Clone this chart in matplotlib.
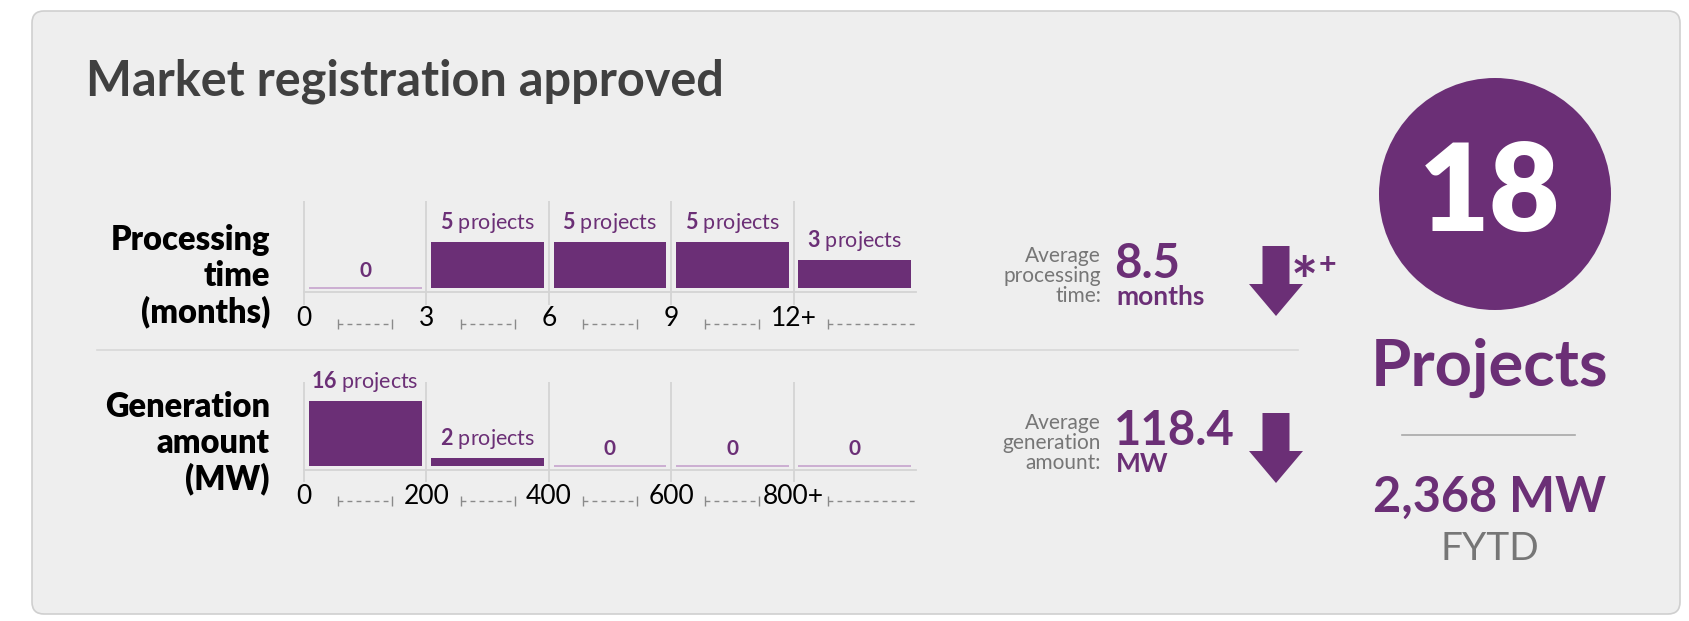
import matplotlib
matplotlib.use('Agg')
import matplotlib.pyplot as plt
from matplotlib.patches import FancyBboxPatch, Circle, FancyArrow

# chart data
time_ticks = ['0', '3', '6', '9', '12+']
time_counts = [0, 5, 5, 5, 3]
mw_ticks = ['0', '200', '400', '600', '800+']
mw_counts = [16, 2, 0, 0, 0]

title = 'Market registration approved'
row_labels = ['Processing\ntime\n(months)', 'Generation\namount\n(MW)']
avg_labels = ['Average\nprocessing\ntime:', 'Average\ngeneration\namount:']
avg_values = ['8.5', '118.4']
avg_units = ['months', 'MW']
total_projects = '18'
total_mw = '2,368 MW'
period = 'FYTD'

W, H, DPI = 1689, 621, 100
PURPLE = '#6b2f76'
ZERO_LINE = '#c9a9cf'
GRID = '#d4d4d4'
GREY_TXT = '#767676'

plt.rcParams['font.family'] = ['Lato', 'DejaVu Sans']
plt.rcParams['mathtext.fontset'] = 'custom'
plt.rcParams['mathtext.rm'] = 'Lato'
plt.rcParams['mathtext.bf'] = 'Lato:bold'

fig = plt.figure(figsize=(W / DPI, H / DPI), dpi=DPI, facecolor='white')

# background layer in pixel coordinates
bg = fig.add_axes([0, 0, 1, 1])
bg.set_xlim(0, W)
bg.set_ylim(H, 0)
bg.set_axis_off()

card = FancyBboxPatch((32, 11), 1648, 603, boxstyle='round,pad=0,rounding_size=12',
                      fc='#eeeeee', ec='#cfcfcf', lw=1.2)
bg.add_patch(card)

bg.text(86, 81, title, fontsize=35, fontweight='bold', color='#404040', va='center', ha='left')

# row labels
bg.text(270, 276, row_labels[0], fontsize=23.5, fontweight='heavy', color='black',
        ha='right', va='center', linespacing=1.15)
bg.text(270, 443, row_labels[1], fontsize=23.5, fontweight='heavy', color='black',
        ha='right', va='center', linespacing=1.15)

# divider between the two rows
bg.plot([97, 1298], [350, 350], color='#d8d8d8', lw=1.2)


def px_axes(x0, y0, x1, y1):
    return fig.add_axes([x0 / W, 1 - y1 / H, (x1 - x0) / W, (y1 - y0) / H])


def histogram_row(ax, counts, ticks, ylim):
    n = len(counts)
    x = [i + 0.5 for i in range(n)]
    ax.set_facecolor('none')
    ax.bar(x, counts, width=0.92, color=PURPLE, zorder=3)
    for xi, c in zip(x, counts):
        if c == 0:
            ax.hlines(0, xi - 0.46, xi + 0.46, color=ZERO_LINE, lw=1.3, zorder=3)
            ax.annotate('0', (xi, 0), xytext=(0, 5), textcoords='offset points',
                        ha='center', va='bottom', fontsize=15, fontweight='bold', color=PURPLE)
        else:
            ax.annotate(r'$\mathbf{%d}$ projects' % c, (xi, c), xytext=(0, 5),
                        textcoords='offset points', ha='center', va='bottom',
                        fontsize=15.5, color=PURPLE)
    ax.set_xlim(0, n)
    ax.set_ylim(*ylim)
    for s in ['top', 'right', 'left']:
        ax.spines[s].set_visible(False)
    ax.spines['bottom'].set_color(GRID)
    ax.spines['bottom'].set_linewidth(1.3)
    ax.set_yticks([])
    ax.set_xticks(range(n))
    ax.set_xticklabels(ticks)
    ax.tick_params(axis='x', length=0, pad=10, labelsize=19, labelcolor='black')
    tr = ax.get_xaxis_transform()
    ax.vlines(range(n), -0.14, 1, transform=tr, color=GRID, lw=1.3, clip_on=False, zorder=1)
    # dashed connectors between tick labels
    for i in range(n):
        last = i == n - 1
        x0, x1 = i + 0.28, (i + 0.99 if last else i + 0.72)
        ax.plot([x0, x1], [-0.35, -0.35], transform=tr, color='#8a8a8a', lw=1,
                ls=(0, (3.5, 3)), clip_on=False)
        caps = [x0] if last else [x0, x1]
        ax.plot(caps, [-0.35] * len(caps), transform=tr, ls='none', marker='|',
                ms=7, mew=1, color='#8a8a8a', clip_on=False)


ax1 = px_axes(304, 201, 916, 292)
histogram_row(ax1, time_counts, time_ticks, (-0.43, 9.46))
ax2 = px_axes(304, 382, 916, 470)
histogram_row(ax2, mw_counts, mw_ticks, (-1.0, 20.7))

# averages with trend arrows
for k, yc in enumerate([276, 443]):
    bg.text(1101, yc, avg_labels[k], fontsize=15, color=GREY_TXT, ha='right', va='center',
            linespacing=1.0)
    bg.text(1114, yc - 12, avg_values[k], fontsize=34, fontweight='bold', color=PURPLE,
            ha='left', va='center')
    bg.text(1116, yc + 21, avg_units[k], fontsize=19, fontweight='bold', color=PURPLE,
            ha='left', va='center')
    top = yc - 30
    bg.add_patch(FancyArrow(1276, top, 0, 70, width=27, head_width=54, head_length=32,
                            length_includes_head=True, color=PURPLE, lw=0))

bg.text(1291, 304, '*', fontsize=46, fontweight='bold', color=PURPLE, ha='left', va='baseline')
bg.text(1319, 274, '+', fontsize=22, fontweight='bold', color=PURPLE, ha='left', va='baseline')

# totals
bg.add_patch(Circle((1495, 194), 116, color=PURPLE, lw=0))
bg.text(1490, 196, total_projects, fontsize=88, fontweight='heavy', color='white',
        ha='center', va='center')
bg.text(1490, 368, 'Projects', fontsize=47, fontweight='bold', color=PURPLE,
        ha='center', va='center')
bg.plot([1402, 1575], [435, 435], color='#a8a8a8', lw=1.2)
bg.text(1490, 497, total_mw, fontsize=35, fontweight='bold', color=PURPLE,
        ha='center', va='center')
bg.text(1490, 549, period, fontsize=28, color=GREY_TXT, ha='center', va='center')

fig.savefig('out.png', dpi=DPI, facecolor='white')
